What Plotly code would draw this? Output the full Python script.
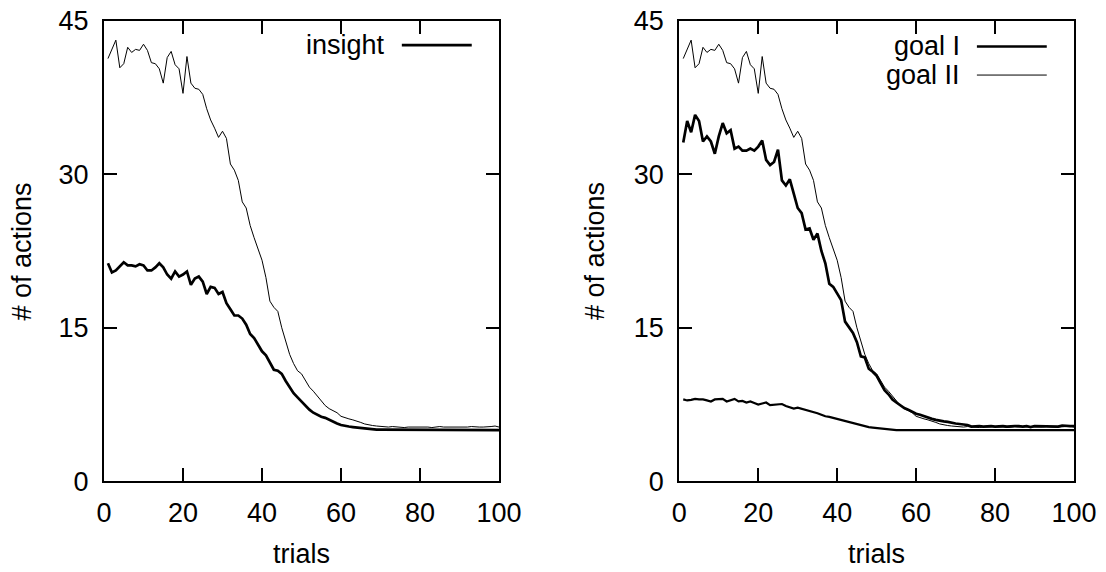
import plotly.graph_objects as go

trials = list(range(1, 101))

# thin curve (left plot) / goal II (right plot)
baseline = [41.3, 42.2, 43.1, 40.4, 40.8, 42.4, 41.9, 42.2, 42.1, 42.7,
            42.1, 40.9, 40.8, 40.3, 38.9, 41.4, 42.0, 40.7, 40.3, 37.9,
            41.5, 38.9, 38.4, 38.3, 37.8, 36.4, 35.3, 34.5, 33.6, 34.2,
            33.5, 31.0, 30.4, 29.4, 27.3, 26.7, 25.0, 23.8, 22.7, 21.6,
            19.9, 17.6, 17.0, 16.6, 15.0, 13.7, 12.4, 11.5, 10.8, 10.5,
            9.8, 9.2, 8.8, 8.3, 7.8, 7.4, 7.1, 6.9, 6.7, 6.35,
            6.2, 6.1, 6.0, 5.9, 5.75, 5.6, 5.5, 5.45, 5.4, 5.35,
            5.3, 5.3, 5.35, 5.3, 5.3, 5.25, 5.3, 5.3, 5.3, 5.35,
            5.3, 5.3, 5.25, 5.3, 5.35, 5.3, 5.3, 5.3, 5.25, 5.3,
            5.3, 5.3, 5.35, 5.3, 5.3, 5.3, 5.3, 5.35, 5.4, 5.3]

insight = [21.3, 20.4, 20.6, 21.0, 21.4, 21.1, 21.1, 21.0, 21.2, 21.1,
           20.6, 20.6, 20.9, 21.3, 20.9, 20.2, 19.8, 20.5, 20.0, 20.2,
           20.5, 19.2, 19.8, 20.0, 19.5, 18.3, 19.0, 18.9, 18.3, 18.5,
           17.4, 16.8, 16.2, 16.2, 15.9, 15.3, 14.4, 14.0, 13.3, 12.7,
           12.3, 11.6, 10.9, 10.8, 10.5, 9.8, 9.2, 8.6, 8.2, 7.8,
           7.3, 7.0, 6.7, 6.5, 6.3, 6.2, 6.0, 5.8, 5.65, 5.5,
           5.4, 5.35, 5.3, 5.25, 5.2, 5.15, 5.1, 5.1, 5.05, 5.05,
           5.05, 5.0, 5.0, 5.0, 5.0, 5.0, 5.0, 5.0, 5.0, 5.0,
           5.0, 5.0, 5.0, 5.0, 5.0, 5.0, 5.0, 5.0, 5.0, 5.0,
           5.0, 5.0, 5.0, 5.0, 5.0, 5.0, 5.0, 5.0, 5.0, 5.0]

goal1 = [33.1, 35.2, 34.1, 35.8, 35.2, 33.2, 33.7, 33.2, 32.0, 33.7,
         35.0, 34.0, 34.3, 32.5, 32.7, 32.3, 32.3, 32.5, 32.3, 32.7,
         33.3, 31.4, 30.9, 31.2, 32.4, 29.4, 28.9, 29.5, 28.1, 26.7,
         26.2, 24.6, 24.7, 23.6, 24.2, 22.5, 21.3, 19.3, 19.0, 18.3,
         17.7, 15.6, 15.0, 14.5, 13.6, 12.2, 12.1, 11.0, 10.7, 10.3,
         9.6, 8.9, 8.5, 8.0, 7.7, 7.4, 7.15, 7.0, 6.8, 6.6,
         6.5, 6.35, 6.2, 6.1, 6.0, 5.9, 5.85, 5.8, 5.7, 5.65,
         5.6, 5.55, 5.5, 5.35, 5.4, 5.4, 5.35, 5.4, 5.4, 5.35,
         5.4, 5.4, 5.35, 5.4, 5.4, 5.4, 5.35, 5.4, 5.3, 5.4,
         5.4, 5.35, 5.4, 5.4, 5.4, 5.35, 5.45, 5.4, 5.4, 5.4]

goal_low = [8.0, 7.9, 7.95, 8.05, 8.0, 8.0, 7.9, 7.8, 8.0, 8.0,
            8.05, 7.8, 7.95, 8.05, 7.8, 7.85, 7.7, 7.8, 7.65, 7.5,
            7.6, 7.7, 7.45, 7.5, 7.55, 7.55, 7.35, 7.25, 7.1, 7.2,
            7.1, 7.0, 6.9, 6.8, 6.65, 6.5, 6.35, 6.3, 6.2, 6.1,
            6.0, 5.85, 5.75, 5.65, 5.55, 5.45, 5.4, 5.3, 5.25, 5.2,
            5.15, 5.1, 5.05, 5.0, 5.0, 5.0, 5.0, 5.0, 5.0, 5.0,
            5.0, 5.0, 5.0, 5.0, 5.0, 5.0, 5.0, 5.0, 5.0, 5.0,
            5.0, 5.0, 5.0, 5.0, 5.0, 5.0, 5.0, 5.0, 5.0, 5.0,
            5.0, 5.0, 5.0, 5.0, 5.0, 5.0, 5.0, 5.0, 5.0, 5.0,
            5.0, 5.0, 5.0, 5.0, 5.0, 5.0, 5.0, 5.0, 5.0, 5.0]

x_ticks = [0, 20, 40, 60, 80, 100]
y_ticks = [0, 15, 30, 45]
x_title = "trials"
y_title = "# of actions"

FONT = "Liberation Sans, Arial, sans-serif"
FS = 27
THICK = 2.7
THIN = 1.0

fig = go.Figure()

# left panel
fig.add_trace(go.Scatter(x=trials, y=baseline, mode="lines", line=dict(color="black", width=THIN),
                         xaxis="x", yaxis="y", showlegend=False))
fig.add_trace(go.Scatter(x=trials, y=insight, mode="lines", line=dict(color="black", width=THICK),
                         xaxis="x", yaxis="y", showlegend=False, name="insight"))
# right panel
fig.add_trace(go.Scatter(x=trials, y=goal_low, mode="lines", line=dict(color="black", width=2.2),
                         xaxis="x2", yaxis="y2", showlegend=False))
fig.add_trace(go.Scatter(x=trials, y=baseline, mode="lines", line=dict(color="black", width=THIN),
                         xaxis="x2", yaxis="y2", showlegend=False, name="goal II"))
fig.add_trace(go.Scatter(x=trials, y=goal1, mode="lines", line=dict(color="black", width=THICK),
                         xaxis="x2", yaxis="y2", showlegend=False, name="goal I"))

W, H = 1106, 572
ybot = 1 - 481.3 / H
ytop = 1 - 20.7 / H

common_x = dict(range=[0, 100], tickvals=x_ticks, ticks="inside", ticklen=13, tickwidth=2,
                tickcolor="black", showline=True, linecolor="black", linewidth=2, mirror="ticks",
                showgrid=False, zeroline=False, tickfont=dict(family=FONT, size=FS, color="black"),
                ticklabelstandoff=6, ticklabeloverflow="allow", automargin=False)
common_y = dict(range=[0, 45], tickvals=y_ticks, ticks="inside", ticklen=13, tickwidth=2,
                tickcolor="black", showline=True, linecolor="black", linewidth=2, mirror="ticks",
                showgrid=False, zeroline=False, tickfont=dict(family=FONT, size=FS, color="black"),
                ticklabelstandoff=8, ticklabeloverflow="allow", automargin=False)

fig.update_layout(
    width=W, height=H,
    margin=dict(l=0, r=0, t=0, b=0),
    paper_bgcolor="white", plot_bgcolor="white",
    xaxis=dict(domain=[104 / W, 499 / W], anchor="y", **common_x),
    yaxis=dict(domain=[ybot, ytop], anchor="x", **common_y),
    xaxis2=dict(domain=[679.3 / W, 1074 / W], anchor="y2", **common_x),
    yaxis2=dict(domain=[ybot, ytop], anchor="x2", **common_y),
    showlegend=False,
)

title_font = dict(family=FONT, size=FS, color="black")
# axis titles
for xc in (301.5, 876.7):
    fig.add_annotation(xref="paper", yref="paper", x=xc / W, y=1 - 554 / H, text=x_title,
                       showarrow=False, xanchor="center", yanchor="middle", font=title_font)
for xc in (21.0, 594.5):
    fig.add_annotation(xref="paper", yref="paper", x=xc / W, y=1 - 251.5 / H, text=y_title,
                       textangle=-90, showarrow=False, xanchor="center", yanchor="middle",
                       font=title_font)

# gnuplot-style keys (text then sample line)
def key(xref, yref, ypos, label, width):
    fig.add_annotation(xref=xref, yref=yref, x=0.716, y=ypos, text=label, showarrow=False,
                       xanchor="right", yanchor="middle", font=title_font)
    fig.add_shape(type="line", xref=xref, yref=yref, x0=0.754, x1=0.931, y0=ypos, y1=ypos,
                  line=dict(color="black", width=width))

key("x domain", "y domain", 0.947, "insight", THICK)
key("x2 domain", "y2 domain", 0.944, "goal I", THICK)
key("x2 domain", "y2 domain", 0.882, "goal II", THIN)

fig.write_html("out.html", config={"displayModeBar": False},
               post_script="document.body.style.margin='0';")
